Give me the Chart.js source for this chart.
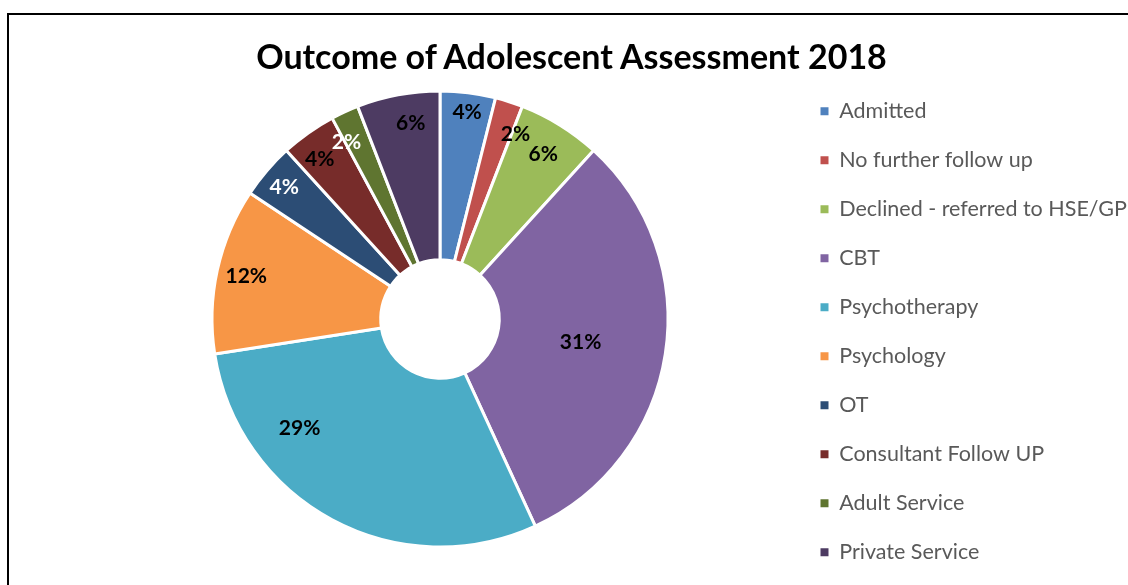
<!DOCTYPE html>
<html>
<head>
<meta charset="utf-8">
<script src="https://cdn.jsdelivr.net/npm/chart.js@4.4.1/dist/chart.umd.min.js"></script>
<style>
  html, body { margin: 0; padding: 0; background: #fff; overflow: hidden; width: 1128px; height: 585px; }
  #frame { position: absolute; left: 7px; top: 13px; width: 1200px; height: 700px; border-left: 2px solid #000; border-top: 2px solid #000; pointer-events: none; }
  #titulo { position: absolute; left: 0; top: 36px; width: 1143px; text-align: center; font: bold 34px Lato, sans-serif; line-height: 40px; color: #000; }
  #chartBox { position: absolute; left: 0; top: 0; width: 1200px; height: 600px; }
</style>
</head>
<body>
<div id="chartBox"><canvas id="outcomeChart"></canvas></div>
<div id="titulo">Outcome of Adolescent Assessment 2018</div>
<div id="frame"></div>
<script>
const categories = ['Admitted', 'No further follow up', 'Declined - referred to HSE/GP', 'CBT', 'Psychotherapy',
  'Psychology', 'OT', 'Consultant Follow UP', 'Adult Service', 'Private Service'];
const counts = [2, 1, 3, 16, 15, 6, 2, 2, 1, 3];
const colours = ['#4F81BD', '#C0504D', '#9BBB59', '#8064A2', '#4BACC6',
  '#F79646', '#2C4D75', '#772C2A', '#5F7530', '#4D3B62'];

// where Excel put each percent label (fraction of radius, degrees off the slice middle)
const labelRadius = [0.915, 0.875, 0.853, 0.625, 0.78, 0.87, 0.894, 0.877, 0.877, 0.868];
const labelShift = [0.4, 4.6, 0.3, 0.5, 23.9, 0, -0.4, -1.7, -3.2, 2.1];
const labelColours = ['#000', '#000', '#000', '#000', '#000', '#000', '#fff', '#000', '#fff', '#000'];

const legendFont = { family: 'Lato', size: 21.5 };
const rowGap = 49;
const chartWidth = 1200;

// legend box must start at x=793, so work out right padding from the widest label
// (chart.js adds 10px to a vertical legend)
const medidor = document.createElement('canvas').getContext('2d');
medidor.font = legendFont.size + 'px ' + legendFont.family;
const widest = Math.max(...categories.map(c => medidor.measureText(c).width));
const legendPad = rowGap - legendFont.size;
const rightPad = chartWidth - 793 - (legendPad + 8 + legendFont.size / 2 + widest + 10);

const percentLabels = {
  id: 'percentLabels',
  afterDatasetsDraw(chart) {
    const ctx = chart.ctx;
    const meta = chart.getDatasetMeta(0);
    const total = counts.reduce((a, b) => a + b, 0);
    ctx.save();
    ctx.font = 'bold 21px Lato';
    ctx.textAlign = 'center';
    ctx.textBaseline = 'middle';
    meta.data.forEach((arc, i) => {
      const { x, y, startAngle, endAngle, outerRadius } = arc.getProps(['x', 'y', 'startAngle', 'endAngle', 'outerRadius'], true);
      const mid = (startAngle + endAngle) / 2 + labelShift[i] * Math.PI / 180;
      const r = outerRadius * labelRadius[i];
      ctx.fillStyle = labelColours[i];
      ctx.fillText(Math.round(counts[i] / total * 100) + '%', x + Math.cos(mid) * r, y + Math.sin(mid) * r);
    });
    ctx.restore();
  }
};

new Chart(document.getElementById('outcomeChart'), {
  type: 'doughnut',
  data: {
    labels: categories,
    datasets: [{
      data: counts,
      backgroundColor: colours,
      borderColor: '#fff',
      borderWidth: 3,
      radius: 228,
      cutout: '26%'
    }]
  },
  options: {
    responsive: true,
    maintainAspectRatio: false,
    animation: false,
    layout: { padding: { top: 38, bottom: 0, left: 87, right: rightPad } },
    plugins: {
      tooltip: { enabled: false },
      legend: {
        position: 'right',
        align: 'start',
        title: { display: true, text: '', font: { size: 10 }, padding: { top: 23, bottom: 0 } },
        labels: {
          boxWidth: 8,
          boxHeight: 8,
          padding: legendPad,
          color: '#595959',
          font: legendFont,
          generateLabels(chart) {
            return Chart.overrides.doughnut.plugins.legend.labels.generateLabels(chart)
              .map(item => Object.assign(item, { lineWidth: 0 }));
          }
        }
      }
    }
  },
  plugins: [percentLabels]
});
</script>
</body>
</html>
